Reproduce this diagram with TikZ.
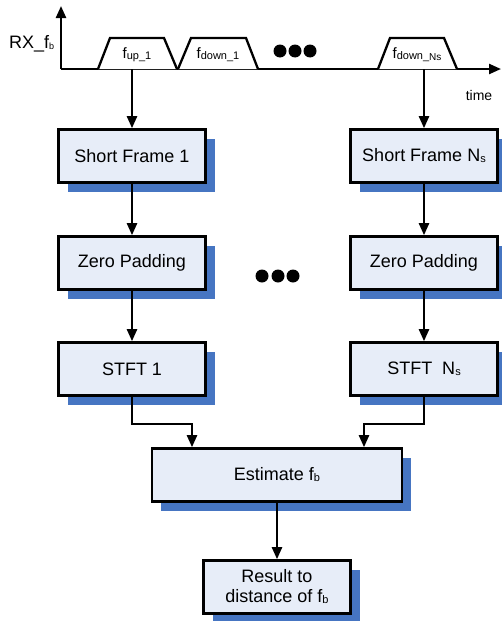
\documentclass[tikz,border=0pt]{standalone}
\usepackage{fontspec}
\setmainfont{Liberation Sans}
\usetikzlibrary{arrows.meta,shadows}
\definecolor{boxfill}{RGB}{231,237,248}
\definecolor{shadowc}{RGB}{70,117,194}
\newcommand{\sbs}[1]{\raisebox{-1pt}{\fontsize{11}{11}\selectfont #1}}
\newcommand{\sbt}[1]{\raisebox{-1pt}{\fontsize{10}{10}\selectfont #1}}
\begin{document}
\begin{tikzpicture}[x=1pt,y=-1pt,
  box/.style={draw=black,line width=2.6pt,fill=boxfill,minimum width=147pt,minimum height=53pt,
    inner sep=0pt,font=\fontsize{18}{20}\selectfont,align=center,
    drop shadow={shadow xshift=9pt,shadow yshift=-9pt,fill=shadowc,opacity=1}},
  arr/.style={line width=2.3pt,-{Triangle[length=12pt,width=10pt]}},
  trap/.style={line width=2.3pt,fill=white},
  dot/.style={fill=black}]
\useasboundingbox (0,0) rectangle (502,621);
% axes
\draw[arr] (61,69) -- (61,6);
\draw[arr] (61,69) -- (501,69);
\node[anchor=west,font=\fontsize{18}{18}\selectfont,inner sep=0pt] (rx) at (9,44) {RX\_f\raisebox{-1pt}{\fontsize{9}{9}\selectfont b}};
\node[font=\fontsize{14}{14}\selectfont,inner sep=0pt] (time) at (479,95) {time};
% trapezoids
\draw[trap] (98,69) -- (110,38) -- (164,38) -- (177,69);
\draw[trap] (178,69) -- (191,38) -- (246,38) -- (258,69);
\draw[trap] (378,69) -- (390,38) -- (444,38) -- (457,69);
\node[font=\fontsize{15}{15}\selectfont,inner sep=0pt] (tf1) at (137,55) {f\sbs{up\_1}};
\node[font=\fontsize{15}{15}\selectfont,inner sep=0pt] (tf2) at (218,55) {f\sbs{down\_1}};
\node[font=\fontsize{15}{15}\selectfont,inner sep=0pt] (tf3) at (417,55) {f\sbs{down\_\sbt{Ns}}};
\fill[dot] (280,51) circle (6.5) (295,51) circle (6.5) (310,51) circle (6.5);
\coordinate (a1) at (132,69);
\coordinate (a2) at (424,69);
% boxes
\node[box] (sf1) at (132,156) {Short Frame 1};
\node[box] (sfN) at (424,156) {Short Frame N\sbs{s}};
\node[box] (zp1) at (132,263) {Zero Padding};
\node[box] (zpN) at (424,263) {Zero Padding};
\node[box] (st1) at (132,369) {STFT 1};
\node[box] (stN) at (424,369) {STFT\ \ N\sbs{s}};
\node[box,minimum width=250pt] (est) at (277,475) {Estimate f\sbs{b}};
\node[box] (res) at (277,587) {Result to\\distance of f\sbs{b}};
\fill[dot] (262,276) circle (6.5) (278,276) circle (6.5) (293,276) circle (6.5);
% connectors
\draw[arr] (a1) -- (sf1.north);
\draw[arr] (a2) -- (sfN.north);
\draw[arr] (sf1) -- (zp1);
\draw[arr] (sfN) -- (zpN);
\draw[arr] (zp1) -- (st1);
\draw[arr] (zpN) -- (stN);
\draw[arr] (st1.south) -- ++(0,27) -| ([xshift=-85pt]est.north);
\draw[arr] (stN.south) -- ++(0,27) -| ([xshift=87pt]est.north);
\draw[arr] (est) -- (res);
\end{tikzpicture}
\end{document}
